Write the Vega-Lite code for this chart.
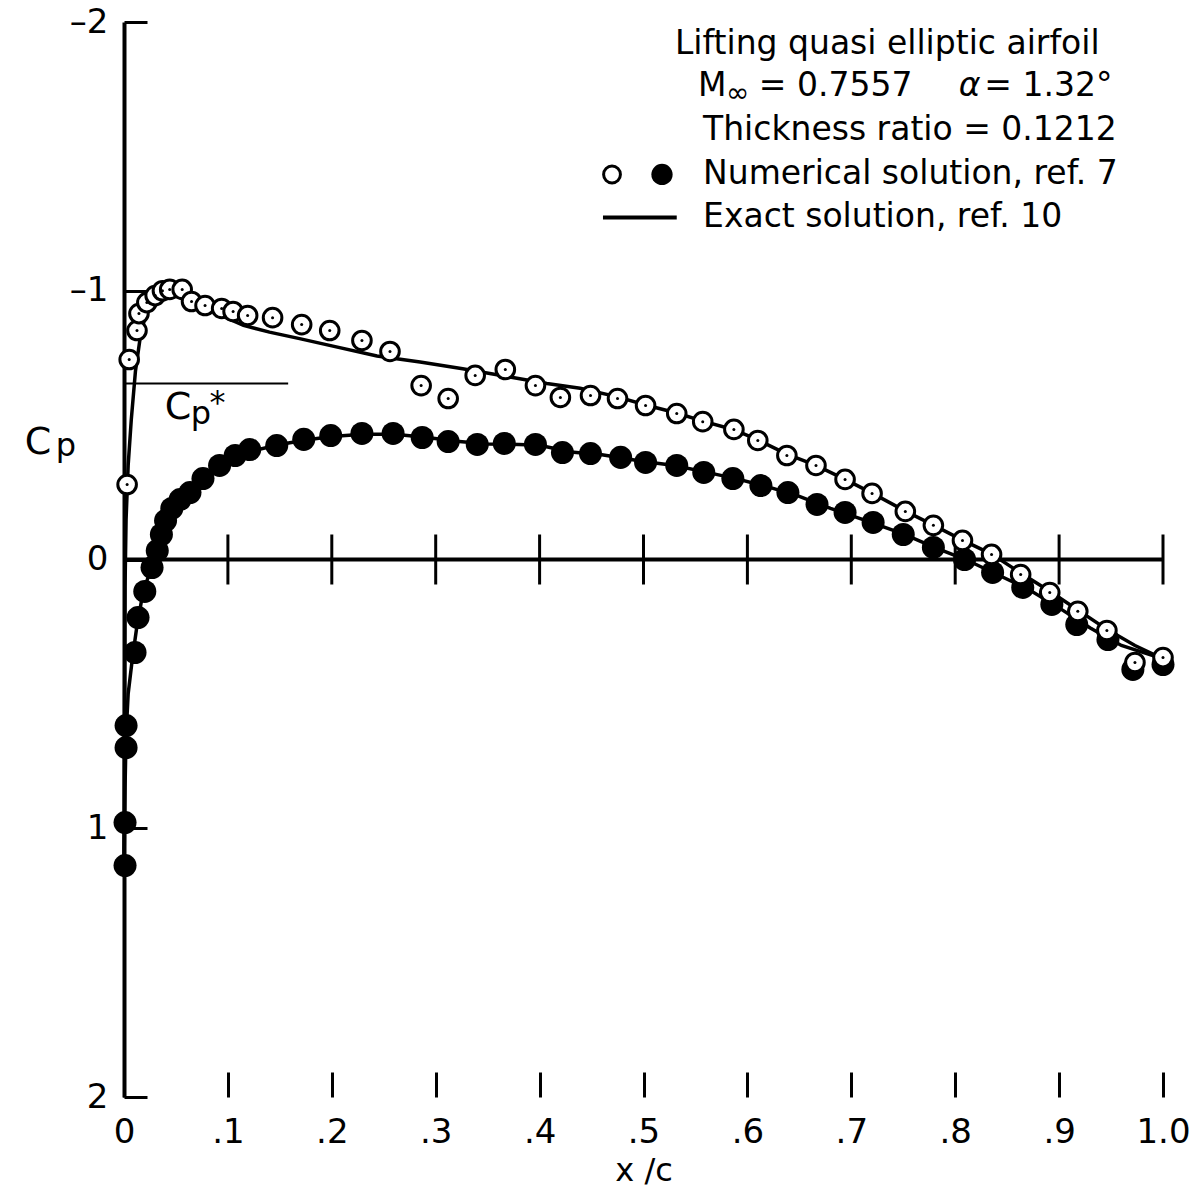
{
  "$schema": "https://vega.github.io/schema/vega-lite/v6.json",
  "width": 1039,
  "height": 1075,
  "autosize": {"type": "none"},
  "padding": {"left": 124, "top": 22, "right": 38, "bottom": 92},
  "background": "white",
  "config": {
    "view": {"stroke": null},
    "font": "DejaVu Sans",
    "axis": {"grid": false, "labelColor": "black", "labelFont": "DejaVu Sans", "titleFont": "DejaVu Sans", "titleColor": "black", "titleFontWeight": "normal", "tickColor": "black", "domainColor": "black"}
  },
  "datasets": {
    "upper": [
      {"x": 0.003, "cp": -0.279}, {"x": 0.005, "cp": -0.744}, {"x": 0.0125, "cp": -0.852}, {"x": 0.0144, "cp": -0.915},
      {"x": 0.022, "cp": -0.956}, {"x": 0.030, "cp": -0.982}, {"x": 0.037, "cp": -1.0}, {"x": 0.044, "cp": -1.005},
      {"x": 0.056, "cp": -1.005}, {"x": 0.065, "cp": -0.96}, {"x": 0.078, "cp": -0.945}, {"x": 0.094, "cp": -0.934},
      {"x": 0.105, "cp": -0.923}, {"x": 0.119, "cp": -0.908}, {"x": 0.143, "cp": -0.90}, {"x": 0.171, "cp": -0.874},
      {"x": 0.198, "cp": -0.852}, {"x": 0.229, "cp": -0.815}, {"x": 0.256, "cp": -0.774}, {"x": 0.286, "cp": -0.647},
      {"x": 0.312, "cp": -0.599}, {"x": 0.338, "cp": -0.685}, {"x": 0.367, "cp": -0.707}, {"x": 0.396, "cp": -0.647},
      {"x": 0.420, "cp": -0.603}, {"x": 0.449, "cp": -0.61}, {"x": 0.475, "cp": -0.599}, {"x": 0.502, "cp": -0.573},
      {"x": 0.532, "cp": -0.543}, {"x": 0.557, "cp": -0.513}, {"x": 0.587, "cp": -0.484}, {"x": 0.610, "cp": -0.443},
      {"x": 0.638, "cp": -0.387}, {"x": 0.666, "cp": -0.350}, {"x": 0.694, "cp": -0.298}, {"x": 0.720, "cp": -0.246},
      {"x": 0.752, "cp": -0.179}, {"x": 0.779, "cp": -0.127}, {"x": 0.807, "cp": -0.071}, {"x": 0.835, "cp": -0.019},
      {"x": 0.863, "cp": 0.056}, {"x": 0.891, "cp": 0.123}, {"x": 0.918, "cp": 0.193}, {"x": 0.946, "cp": 0.264},
      {"x": 0.973, "cp": 0.383}, {"x": 1.0, "cp": 0.365}
    ],
    "lower": [
      {"x": 0.001, "cp": 1.139}, {"x": 0.001, "cp": 0.979}, {"x": 0.002, "cp": 0.70}, {"x": 0.002, "cp": 0.618},
      {"x": 0.0106, "cp": 0.346}, {"x": 0.0135, "cp": 0.216}, {"x": 0.020, "cp": 0.119}, {"x": 0.027, "cp": 0.030},
      {"x": 0.032, "cp": -0.033}, {"x": 0.036, "cp": -0.093}, {"x": 0.040, "cp": -0.145}, {"x": 0.046, "cp": -0.19},
      {"x": 0.054, "cp": -0.223}, {"x": 0.0635, "cp": -0.249}, {"x": 0.076, "cp": -0.301}, {"x": 0.092, "cp": -0.35},
      {"x": 0.107, "cp": -0.387}, {"x": 0.121, "cp": -0.409}, {"x": 0.147, "cp": -0.424}, {"x": 0.173, "cp": -0.447},
      {"x": 0.199, "cp": -0.461}, {"x": 0.229, "cp": -0.469}, {"x": 0.259, "cp": -0.469}, {"x": 0.287, "cp": -0.454},
      {"x": 0.312, "cp": -0.439}, {"x": 0.340, "cp": -0.428}, {"x": 0.366, "cp": -0.432}, {"x": 0.396, "cp": -0.428},
      {"x": 0.422, "cp": -0.398}, {"x": 0.449, "cp": -0.394}, {"x": 0.478, "cp": -0.380}, {"x": 0.502, "cp": -0.361},
      {"x": 0.532, "cp": -0.350}, {"x": 0.558, "cp": -0.324}, {"x": 0.586, "cp": -0.301}, {"x": 0.613, "cp": -0.275},
      {"x": 0.639, "cp": -0.249}, {"x": 0.667, "cp": -0.205}, {"x": 0.694, "cp": -0.175}, {"x": 0.721, "cp": -0.138},
      {"x": 0.750, "cp": -0.093}, {"x": 0.779, "cp": -0.045}, {"x": 0.809, "cp": 0.0}, {"x": 0.836, "cp": 0.048},
      {"x": 0.865, "cp": 0.104}, {"x": 0.893, "cp": 0.167}, {"x": 0.917, "cp": 0.242}, {"x": 0.947, "cp": 0.298},
      {"x": 0.971, "cp": 0.409}, {"x": 1.0, "cp": 0.391}
    ],
    "exact": [
      {"s": "upper", "x": 0.0, "cp": 1.14}, {"s": "upper", "x": 0.0005, "cp": 0.6}, {"s": "upper", "x": 0.001, "cp": 0.1},
      {"s": "upper", "x": 0.002, "cp": -0.15}, {"s": "upper", "x": 0.004, "cp": -0.35}, {"s": "upper", "x": 0.007, "cp": -0.52},
      {"s": "upper", "x": 0.011, "cp": -0.7}, {"s": "upper", "x": 0.0154, "cp": -0.82}, {"s": "upper", "x": 0.02, "cp": -0.9},
      {"s": "upper", "x": 0.026, "cp": -0.955}, {"s": "upper", "x": 0.033, "cp": -0.99}, {"s": "upper", "x": 0.042, "cp": -1.0},
      {"s": "upper", "x": 0.052, "cp": -0.99}, {"s": "upper", "x": 0.065, "cp": -0.965}, {"s": "upper", "x": 0.08, "cp": -0.935},
      {"s": "upper", "x": 0.095, "cp": -0.905}, {"s": "upper", "x": 0.115, "cp": -0.871}, {"s": "upper", "x": 0.14, "cp": -0.846},
      {"s": "upper", "x": 0.169, "cp": -0.822}, {"s": "upper", "x": 0.2, "cp": -0.795}, {"s": "upper", "x": 0.2435, "cp": -0.757},
      {"s": "upper", "x": 0.285, "cp": -0.735}, {"s": "upper", "x": 0.326, "cp": -0.71}, {"s": "upper", "x": 0.37, "cp": -0.68},
      {"s": "upper", "x": 0.407, "cp": -0.655}, {"s": "upper", "x": 0.439, "cp": -0.637}, {"s": "upper", "x": 0.475, "cp": -0.605},
      {"s": "upper", "x": 0.502, "cp": -0.575}, {"s": "upper", "x": 0.532, "cp": -0.545}, {"s": "upper", "x": 0.557, "cp": -0.515},
      {"s": "upper", "x": 0.587, "cp": -0.483}, {"s": "upper", "x": 0.61, "cp": -0.445}, {"s": "upper", "x": 0.638, "cp": -0.392},
      {"s": "upper", "x": 0.666, "cp": -0.35}, {"s": "upper", "x": 0.694, "cp": -0.298}, {"s": "upper", "x": 0.72, "cp": -0.247},
      {"s": "upper", "x": 0.752, "cp": -0.18}, {"s": "upper", "x": 0.779, "cp": -0.128}, {"s": "upper", "x": 0.807, "cp": -0.072},
      {"s": "upper", "x": 0.835, "cp": -0.02}, {"s": "upper", "x": 0.863, "cp": 0.05}, {"s": "upper", "x": 0.891, "cp": 0.118},
      {"s": "upper", "x": 0.918, "cp": 0.188}, {"s": "upper", "x": 0.946, "cp": 0.26}, {"s": "upper", "x": 0.973, "cp": 0.32},
      {"s": "upper", "x": 1.0, "cp": 0.37},
      {"s": "lower", "x": 0.0, "cp": 1.14}, {"s": "lower", "x": 0.001, "cp": 0.85}, {"s": "lower", "x": 0.002, "cp": 0.65},
      {"s": "lower", "x": 0.004, "cp": 0.5}, {"s": "lower", "x": 0.008, "cp": 0.37}, {"s": "lower", "x": 0.012, "cp": 0.26},
      {"s": "lower", "x": 0.017, "cp": 0.15}, {"s": "lower", "x": 0.022, "cp": 0.08}, {"s": "lower", "x": 0.028, "cp": 0.01},
      {"s": "lower", "x": 0.034, "cp": -0.06}, {"s": "lower", "x": 0.04, "cp": -0.12}, {"s": "lower", "x": 0.048, "cp": -0.18},
      {"s": "lower", "x": 0.06, "cp": -0.24}, {"s": "lower", "x": 0.075, "cp": -0.295}, {"s": "lower", "x": 0.09, "cp": -0.34},
      {"s": "lower", "x": 0.107, "cp": -0.38}, {"s": "lower", "x": 0.125, "cp": -0.405}, {"s": "lower", "x": 0.15, "cp": -0.428},
      {"s": "lower", "x": 0.175, "cp": -0.445}, {"s": "lower", "x": 0.2, "cp": -0.458}, {"s": "lower", "x": 0.23, "cp": -0.466},
      {"s": "lower", "x": 0.26, "cp": -0.466}, {"s": "lower", "x": 0.29, "cp": -0.455}, {"s": "lower", "x": 0.32, "cp": -0.44},
      {"s": "lower", "x": 0.35, "cp": -0.43}, {"s": "lower", "x": 0.38, "cp": -0.428}, {"s": "lower", "x": 0.4, "cp": -0.425},
      {"s": "lower", "x": 0.43, "cp": -0.4}, {"s": "lower", "x": 0.46, "cp": -0.39}, {"s": "lower", "x": 0.5, "cp": -0.365},
      {"s": "lower", "x": 0.53, "cp": -0.35}, {"s": "lower", "x": 0.56, "cp": -0.325}, {"s": "lower", "x": 0.59, "cp": -0.3},
      {"s": "lower", "x": 0.62, "cp": -0.27}, {"s": "lower", "x": 0.65, "cp": -0.235}, {"s": "lower", "x": 0.68, "cp": -0.19},
      {"s": "lower", "x": 0.71, "cp": -0.15}, {"s": "lower", "x": 0.75, "cp": -0.095}, {"s": "lower", "x": 0.78, "cp": -0.045},
      {"s": "lower", "x": 0.81, "cp": 0.0}, {"s": "lower", "x": 0.84, "cp": 0.055}, {"s": "lower", "x": 0.87, "cp": 0.11},
      {"s": "lower", "x": 0.9, "cp": 0.18}, {"s": "lower", "x": 0.93, "cp": 0.255}, {"s": "lower", "x": 0.96, "cp": 0.32},
      {"s": "lower", "x": 1.0, "cp": 0.37}
    ],
    "zticks": [
      {"x": 0.1}, {"x": 0.2}, {"x": 0.3}, {"x": 0.4}, {"x": 0.5}, {"x": 0.6}, {"x": 0.7}, {"x": 0.8}, {"x": 0.9}, {"x": 1.0}
    ],
    "refs": [
      {"x": 0.0, "x2": 1.0, "cp": 0.0, "kind": "zero"},
      {"x": 0.0, "x2": 0.158, "cp": -0.655, "kind": "cpstar"}
    ]
  },
  "layer": [
    {
      "data": {"name": "exact"},
      "mark": {"type": "line", "color": "black", "strokeWidth": 3.5},
      "encoding": {
        "x": {"field": "x", "type": "quantitative", "scale": {"domain": [0, 1], "nice": false, "zero": false},
          "axis": {"values": [0, 0.1, 0.2, 0.3, 0.4, 0.5, 0.6, 0.7, 0.8, 0.9, 1.0],
            "labelExpr": "datum.value == 0 ? '0' : datum.value == 1 ? '1.0' : '.' + format(round(datum.value * 10), 'd')",
            "domain": false, "tickSize": -25, "tickWidth": 3, "labelPadding": 43, "labelFontSize": 34, "labelFlush": false,
            "titleFontSize": 32, "titlePadding": 6},
          "title": "x /c"},
        "y": {"field": "cp", "type": "quantitative", "scale": {"domain": [-2, 2], "reverse": true, "nice": false, "zero": false},
          "axis": {"values": [-2, -1, 0, 1, 2],
            "labelExpr": "datum.value < 0 ? '–' + format(-datum.value, 'd') : format(datum.value, 'd')",
            "domainWidth": 4, "tickSize": -23, "tickWidth": 3, "labelPadding": 39, "labelFontSize": 34},
          "title": null},
        "detail": {"field": "s"}
      }
    },
    {
      "data": {"name": "refs"},
      "transform": [{"filter": "datum.kind == 'zero'"}],
      "mark": {"type": "rule", "color": "black", "strokeWidth": 4},
      "encoding": {"x": {"field": "x", "type": "quantitative", "title": "x /c"}, "x2": {"field": "x2"}, "y": {"field": "cp", "type": "quantitative", "title": null}}
    },
    {
      "data": {"name": "refs"},
      "transform": [{"filter": "datum.kind == 'cpstar'"}],
      "mark": {"type": "rule", "color": "black", "strokeWidth": 2},
      "encoding": {"x": {"field": "x", "type": "quantitative", "title": "x /c"}, "x2": {"field": "x2"}, "y": {"field": "cp", "type": "quantitative", "title": null}}
    },
    {
      "data": {"name": "zticks"},
      "mark": {"type": "tick", "orient": "vertical", "color": "black", "size": 50, "thickness": 3, "opacity": 1},
      "encoding": {"x": {"field": "x", "type": "quantitative", "title": "x /c"}, "y": {"datum": 0}}
    },
    {
      "data": {"name": "lower"},
      "mark": {"type": "point", "shape": "circle", "filled": true, "color": "black", "size": 530, "opacity": 1},
      "encoding": {"x": {"field": "x", "type": "quantitative", "title": "x /c"}, "y": {"field": "cp", "type": "quantitative", "title": null}}
    },
    {
      "data": {"name": "upper"},
      "mark": {"type": "point", "shape": "circle", "filled": false, "fill": "white", "stroke": "black", "strokeWidth": 3, "size": 346, "opacity": 1},
      "encoding": {"x": {"field": "x", "type": "quantitative", "title": "x /c"}, "y": {"field": "cp", "type": "quantitative", "title": null}}
    },
    {
      "data": {"name": "upper"},
      "mark": {"type": "point", "shape": "circle", "filled": true, "color": "black", "size": 9, "opacity": 1},
      "encoding": {"x": {"field": "x", "type": "quantitative", "title": "x /c"}, "y": {"field": "cp", "type": "quantitative", "title": null}}
    },
    {
      "data": {"values": [{"x": -0.0828, "cp": -0.3907, "t": "C"}, {"x": 0.052, "cp": -0.521, "t": "C"}]},
      "mark": {"type": "text", "fontSize": 38, "align": "center", "baseline": "alphabetic", "color": "black"},
      "encoding": {"x": {"field": "x", "type": "quantitative"}, "y": {"field": "cp", "type": "quantitative"}, "text": {"field": "t"}}
    },
    {
      "data": {"values": [{"x": -0.0558, "cp": -0.385, "t": "p"}, {"x": 0.074, "cp": -0.505, "t": "p"}]},
      "mark": {"type": "text", "fontSize": 32, "align": "center", "baseline": "alphabetic", "color": "black"},
      "encoding": {"x": {"field": "x", "type": "quantitative"}, "y": {"field": "cp", "type": "quantitative"}, "text": {"field": "t"}}
    },
    {
      "data": {"values": [{"x": 0.090, "cp": -0.545, "t": "*"}]},
      "mark": {"type": "text", "fontSize": 32, "align": "center", "baseline": "alphabetic", "color": "black"},
      "encoding": {"x": {"field": "x", "type": "quantitative"}, "y": {"field": "cp", "type": "quantitative"}, "text": {"field": "t"}}
    },
    {
      "data": {"values": [
        {"x": 0.5303, "cp": -1.920, "t": "Lifting quasi elliptic airfoil"},
        {"x": 0.5525, "cp": -1.7637, "t": "M"},
        {"x": 0.611, "cp": -1.7637, "t": "= 0.7557"},
        {"x": 0.828, "cp": -1.7637, "t": "= 1.32°"},
        {"x": 0.5573, "cp": -1.600, "t": "Thickness ratio = 0.1212"},
        {"x": 0.5573, "cp": -1.4326, "t": "Numerical solution, ref. 7"},
        {"x": 0.5573, "cp": -1.2726, "t": "Exact solution, ref. 10"}
      ]},
      "mark": {"type": "text", "fontSize": 33, "align": "left", "baseline": "middle", "color": "black"},
      "encoding": {"x": {"field": "x", "type": "quantitative"}, "y": {"field": "cp", "type": "quantitative"}, "text": {"field": "t"}}
    },
    {
      "data": {"values": [{"x": 0.5794, "cp": -1.733, "t": "∞"}]},
      "mark": {"type": "text", "fontSize": 28, "align": "left", "baseline": "middle", "color": "black"},
      "encoding": {"x": {"field": "x", "type": "quantitative"}, "y": {"field": "cp", "type": "quantitative"}, "text": {"field": "t"}}
    },
    {
      "data": {"values": [{"x": 0.8035, "cp": -1.7637, "t": "α"}]},
      "mark": {"type": "text", "fontSize": 33, "fontStyle": "italic", "align": "left", "baseline": "middle", "color": "black"},
      "encoding": {"x": {"field": "x", "type": "quantitative"}, "y": {"field": "cp", "type": "quantitative"}, "text": {"field": "t"}}
    },
    {
      "data": {"values": [{"x": 0.4697, "cp": -1.4326}]},
      "mark": {"type": "point", "shape": "circle", "filled": false, "fill": "white", "stroke": "black", "strokeWidth": 3, "size": 283, "opacity": 1},
      "encoding": {"x": {"field": "x", "type": "quantitative"}, "y": {"field": "cp", "type": "quantitative"}}
    },
    {
      "data": {"values": [{"x": 0.5178, "cp": -1.4326}]},
      "mark": {"type": "point", "shape": "circle", "filled": true, "color": "black", "size": 452, "opacity": 1},
      "encoding": {"x": {"field": "x", "type": "quantitative"}, "y": {"field": "cp", "type": "quantitative"}}
    },
    {
      "data": {"values": [{"x": 0.461, "x2": 0.532, "cp": -1.2726}]},
      "mark": {"type": "rule", "color": "black", "strokeWidth": 4},
      "encoding": {"x": {"field": "x", "type": "quantitative"}, "x2": {"field": "x2"}, "y": {"field": "cp", "type": "quantitative"}}
    }
  ]
}
